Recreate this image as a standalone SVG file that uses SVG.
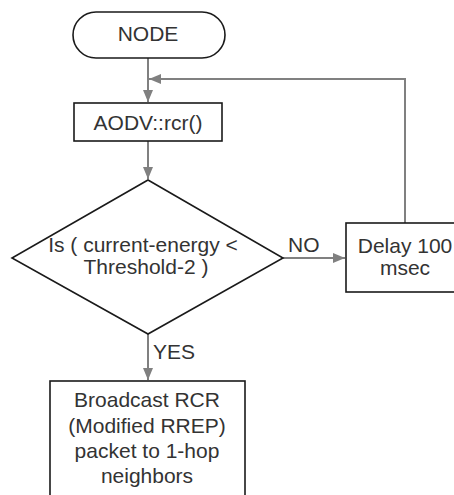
<svg xmlns="http://www.w3.org/2000/svg" width="454" height="495" viewBox="0 0 454 495">
<style>
.shape{fill:#fff;stroke:#1a1a1a;stroke-width:1.6}
.conn{fill:none;stroke:#808080;stroke-width:2}
text{font-family:"Liberation Sans",Arial,sans-serif;font-size:21px;fill:#333}
.c{text-anchor:middle}
</style>
<defs>
<marker id="arr" viewBox="0 0 12 10" refX="12" refY="5" markerWidth="12" markerHeight="10" markerUnits="userSpaceOnUse" orient="auto">
<path d="M0,0 L12,5 L0,10 Z" fill="#808080"/>
</marker>
</defs>
<g id="connectors">
<path class="conn" d="M148,58 V102" marker-end="url(#arr)"/>
<path class="conn" d="M148,141 V179" marker-end="url(#arr)"/>
<path class="conn" d="M283,258 H345" marker-end="url(#arr)"/>
<path class="conn" d="M405,223 V79 H149" marker-end="url(#arr)"/>
<path class="conn" d="M148,334 V380" marker-end="url(#arr)"/>
<text x="288" y="252">NO</text>
<text x="153" y="359">YES</text>
</g>
<g id="node-start">
<rect class="shape" x="73" y="12" width="152" height="46" rx="23" ry="23"/>
<text class="c" x="148" y="41">NODE</text>
</g>
<g id="node-aodv">
<rect class="shape" x="74" y="103" width="148" height="38"/>
<text class="c" x="148" y="130">AODV::rcr()</text>
</g>
<g id="node-decision">
<polygon class="shape" points="148,180 283,258 148,334 12,258"/>
<text class="c" x="143" y="252">Is ( current-energy &lt;</text>
<text class="c" x="146" y="274">Threshold-2 )</text>
</g>
<g id="node-delay">
<rect class="shape" x="346" y="223" width="118" height="69"/>
<text class="c" x="405" y="253">Delay 100</text>
<text class="c" x="405" y="275">msec</text>
</g>
<g id="node-broadcast">
<rect class="shape" x="50" y="381" width="195" height="130"/>
<text class="c" x="147" y="407">Broadcast RCR</text>
<text class="c" x="147" y="433">(Modified RREP)</text>
<text class="c" x="147" y="458">packet to 1-hop</text>
<text class="c" x="147" y="483">neighbors</text>
</g>
</svg>
